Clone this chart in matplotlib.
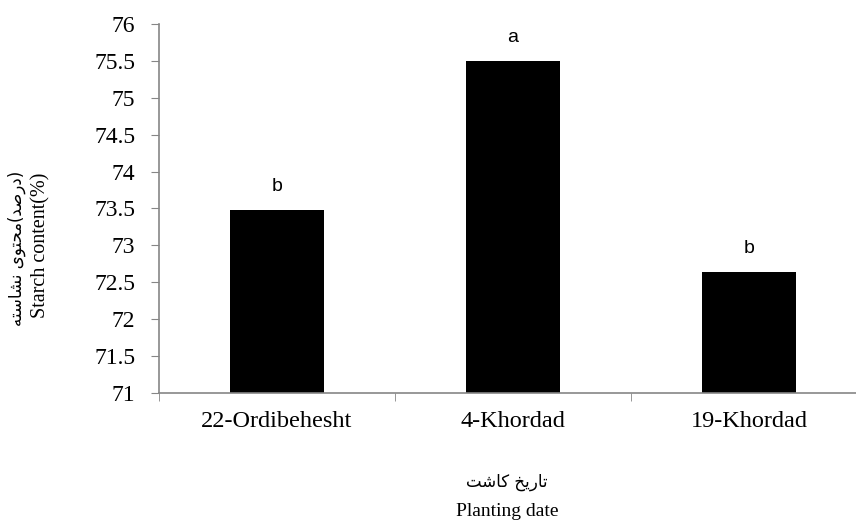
import matplotlib.pyplot as plt
import numpy as np

# داده‌ها
dates = ["22-Ordibehesht", "4-Khordad", "19-Khordad"]
starch = [73.48, 75.5, 72.64]
groups = ["b", "a", "b"]
y_ticks = [71, 71.5, 72, 72.5, 73, 73.5, 74, 74.5, 75, 75.5, 76]

# Persian text in visual order with presentation forms (matplotlib has no shaping)
fa_ylabel = ("\uFEEA\uFE98\uFEB3\uFE8E\uFEB8\uFEE7 "
             "\uFBFC\uFEEE\uFE98\uFEA4\uFEE3"
             "(\uFEAA\uFEBB\uFEAD\uFEA9)")
fa_xlabel = "\uFE96\uFEB7\uFE8E\uFB90 \uFEA6\uFBFE\uFEAD\uFE8E\uFE97"

plt.rcParams['font.family'] = ['Liberation Serif', 'DejaVu Sans']
gray = "#868686"

fig = plt.figure(figsize=(8.56, 5.22), dpi=100)
ax = fig.add_axes([159 / 856, 1 - 393 / 522, 708 / 856, 369 / 522])

x = np.arange(len(dates))
ax.bar(x, [v - 71 for v in starch], bottom=71, width=0.4, color="black")

for xi, v, g in zip(x, starch, groups):
    ax.text(xi, v + 0.2, g, ha="center", va="bottom", fontsize=14,
            family="Liberation Sans")

ax.set_xlim(-0.5, 2.5)
ax.set_ylim(71, 76)
ax.set_yticks(y_ticks)
ax.set_yticklabels([f"{t:g}" for t in y_ticks], fontsize=17)
ax.set_xticks(x)
ax.set_xticklabels(dates, fontsize=17.5)
ax.set_xticks([-0.5, 0.5, 1.5, 2.5], minor=True)
ax.tick_params(axis="x", which="major", length=0, pad=13)
ax.tick_params(axis="x", which="minor", length=6, color=gray)
ax.tick_params(axis="y", length=6, color=gray, pad=11)

for s in ["top", "right"]:
    ax.spines[s].set_visible(False)
for s in ["left", "bottom"]:
    ax.spines[s].set_color(gray)
    ax.spines[s].set_linewidth(1.2)

fig.text(17 / 856, 1 - 248 / 522, fa_ylabel, rotation=90, ha="center",
         va="center", fontsize=12, family="DejaVu Sans")
fig.text(41 / 856, 1 - 245 / 522, "Starch content(%)", rotation=90,
         ha="center", va="center", fontsize=14.5)
fig.text(507 / 856, 1 - 482 / 522, fa_xlabel, ha="center", va="center",
         fontsize=12, family="DejaVu Sans")
fig.text(507 / 856, 1 - 512 / 522, "Planting date", ha="center",
         va="center", fontsize=14)

fig.savefig("out.png", dpi=100)
